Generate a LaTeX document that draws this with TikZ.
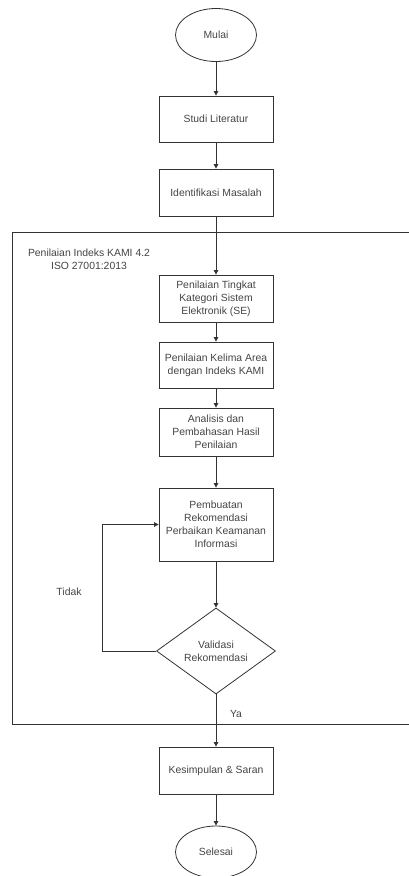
\documentclass[tikz,border=0pt]{standalone}
\usepackage{fontspec}
\setmainfont{Liberation Sans}
\usepackage{xcolor}
\usepackage{tikz}
\usetikzlibrary{arrows.meta, positioning, shapes.geometric}
\definecolor{linegray}{HTML}{333333}
\definecolor{textgray}{HTML}{444444}

\begin{document}
\begin{tikzpicture}[x=1pt,y=-1pt,>={Triangle[length=4.5pt,width=4.5pt]},
    every node/.style={font=\fontsize{10.4}{13}\selectfont,text=textgray},
    stepbox/.style={draw=linegray,line width=0.8pt,rectangle,
      minimum width=114pt,minimum height=46pt,align=center,inner sep=2pt},
    terminal/.style={draw=linegray,line width=0.8pt,ellipse,
      minimum width=81pt,minimum height=53pt,inner sep=0pt},
    decision/.style={draw=linegray,line width=0.8pt,diamond,aspect=1.38,
      minimum width=119pt,minimum height=86pt,inner sep=0pt,align=center},
    flow/.style={->,draw=linegray,line width=0.8pt}]
  \useasboundingbox (0,0) rectangle (409,876);
  % frame of the KAMI assessment
  \draw[linegray,line width=0.8pt](12,232) rectangle (420,724);
  \node[align=center] (judul) at (89,259){Penilaian Indeks KAMI 4.2\\ISO 27001:2013};

  \node[terminal] (mulai) at (216,35){Mulai};
  \node[stepbox] (studi) at (216,119){Studi Literatur};
  \node[stepbox,minimum height=47pt] (identifikasi) at (216,192.5){Identifikasi Masalah};
  \node[stepbox,minimum height=47pt] (tingkat) at (216,298.5)
    {Penilaian Tingkat\\Kategori Sistem\\Elektronik (SE)};
  \node[stepbox] (kelima) at (216,365){Penilaian Kelima Area\\dengan Indeks KAMI};
  \node[stepbox,minimum height=48pt] (analisis) at (216,432)
    {Analisis dan\\Pembahasan Hasil\\Penilaian};
  \node[stepbox,minimum height=73pt] (pembuatan) at (216,524.5)
    {Pembuatan\\Rekomendasi\\Perbaikan Keamanan\\Informasi};
  \node[decision] (validasi) at (216,651){Validasi\\Rekomendasi};
  \node[stepbox,minimum height=47pt] (kesimpulan) at (216,770.5){Kesimpulan \& Saran};
  \node[terminal,minimum height=52pt] (selesai) at (216,852){Selesai};

  \node (tidak) at (69,592){Tidak};
  \node (ya) at (236,714){Ya};

  \draw[flow](mulai)--(studi);
  \draw[flow](studi)--(identifikasi);
  \draw[flow](identifikasi)--(tingkat);
  \draw[flow](tingkat)--(kelima);
  \draw[flow](kelima)--(analisis);
  \draw[flow](analisis)--(pembuatan);
  \draw[flow](pembuatan)--(validasi);
  \draw[flow](validasi.west)--++(-54,0)|-(pembuatan.west);
  \draw[flow](validasi)--(kesimpulan);
  \draw[flow](kesimpulan)--(selesai);
\end{tikzpicture}
\end{document}
